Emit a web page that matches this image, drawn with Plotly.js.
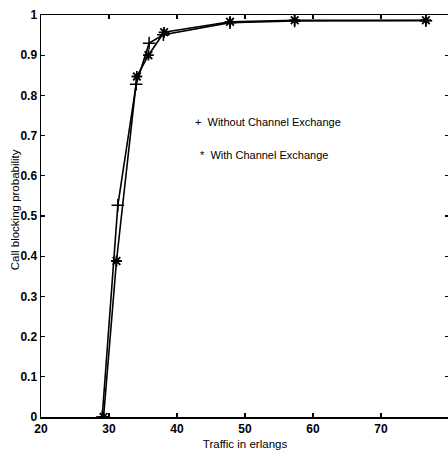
<!DOCTYPE html>
<html>
<head>
<meta charset="utf-8">
<script src="https://cdn.plot.ly/plotly-3.0.1.min.js"></script>
<style>
html,body{margin:0;padding:0;background:#fff;overflow:hidden;}
#chart{width:450px;height:452px;}
</style>
</head>
<body>
<div id="chart"></div>
<script>
// Traffic (erlangs) and call blocking probability
const trafficWithout = [29.0, 31.3, 34.0, 35.9, 38.0, 47.8, 57.3, 76.6];
const blockingWithout = [0.0, 0.527, 0.828, 0.930, 0.951, 0.981, 0.985, 0.986];
const trafficWith = [29.2, 31.1, 34.1, 35.8, 38.1, 47.8, 57.3, 76.6];
const blockingWith = [0.0, 0.388, 0.847, 0.900, 0.957, 0.983, 0.987, 0.987];
const labelWithout = "Without Channel Exchange";
const labelWith = "With Channel Exchange";
const xTitle = "Traffic in erlangs";
const yTitle = "Call blocking probability";

const font = "Arial, 'Liberation Sans', sans-serif";
const narrow = "'Liberation Sans Narrow', 'Arial Narrow', Arial, sans-serif";

const traces = [
  {
    x: trafficWithout, y: blockingWithout, mode: "lines+markers", name: labelWithout,
    line: {color: "#000", width: 1.6},
    marker: {symbol: "cross-thin-open", size: 9, color: "#000", line: {color: "#000", width: 1.5}}
  },
  {
    x: trafficWith, y: blockingWith, mode: "lines+markers", name: labelWith,
    line: {color: "#000", width: 1.6},
    marker: {symbol: "asterisk-open", size: 9, color: "#000", line: {color: "#000", width: 1.8}}
  }
];

const axisCommon = {
  showline: true, linecolor: "#000", linewidth: 1.5,
  mirror: "ticks", ticks: "inside", ticklen: 4, tickwidth: 1.2, tickcolor: "#000",
  showgrid: false, zeroline: false,
  tickfont: {family: narrow, size: 12, color: "#000", weight: "bold"}
};

const layout = {
  width: 450, height: 452,
  margin: {l: 41, r: 1, t: 15, b: 35},
  paper_bgcolor: "#fff", plot_bgcolor: "#fff",
  showlegend: false,
  xaxis: Object.assign({}, axisCommon, {
    range: [20, 80], dtick: 10, tick0: 20,
    title: {text: xTitle, font: {family: font, size: 11.5, color: "#000"}, standoff: 5}
  }),
  yaxis: Object.assign({}, axisCommon, {
    range: [0, 1], dtick: 0.1, tick0: 0
  }),
  annotations: [
    {x: -0.063, y: 0.515, xref: "paper", yref: "paper", xanchor: "center", yanchor: "middle", showarrow: false,
     textangle: -90, text: yTitle, font: {family: font, size: 11.5, color: "#000"}},
    {x: 42.4, y: 0.734, xref: "x", yref: "y", xanchor: "left", yanchor: "middle", showarrow: false,
     text: "+  " + labelWithout, font: {family: font, size: 11, color: "#000"}},
    {x: 43.1, y: 0.652, xref: "x", yref: "y", xanchor: "left", yanchor: "middle", showarrow: false,
     text: "*  " + labelWith, font: {family: font, size: 11, color: "#000"}}
  ]
};

Plotly.newPlot("chart", traces, layout, {displayModeBar: false, staticPlot: true});
</script>
</body>
</html>
